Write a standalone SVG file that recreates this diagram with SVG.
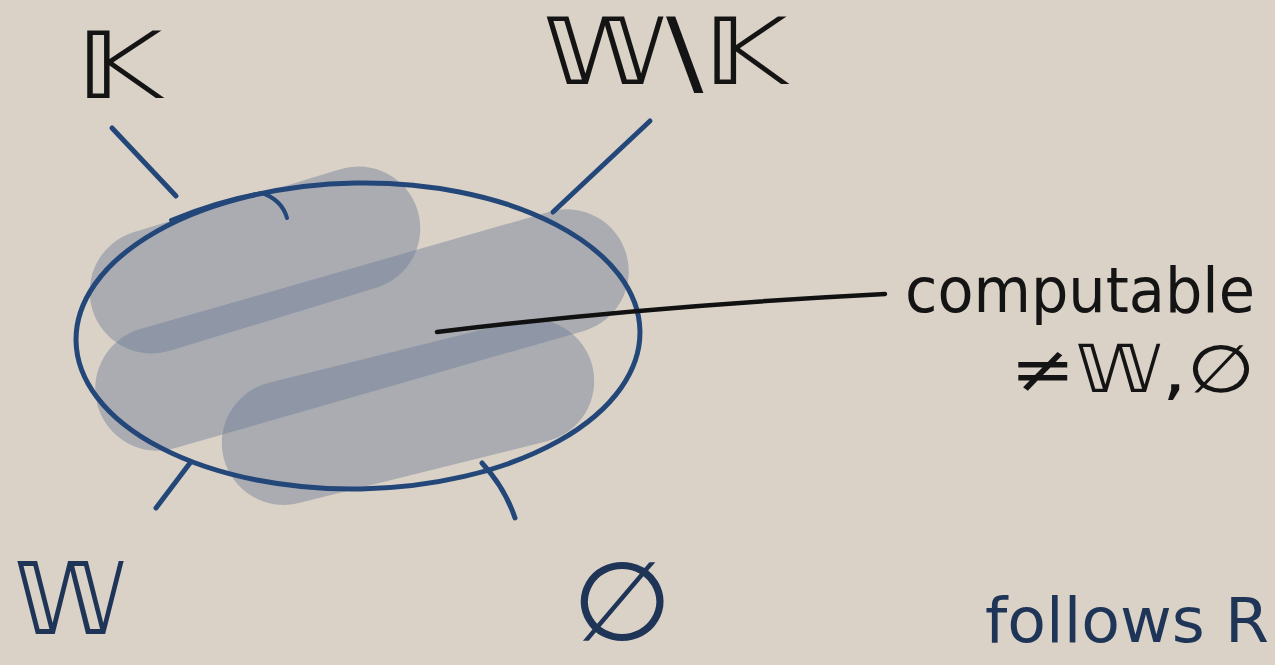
<svg xmlns="http://www.w3.org/2000/svg" width="1275" height="665" viewBox="0 0 1275 665">
<style>
.blob{fill:#6f7e98;fill-opacity:0.45}
.ink{fill:none;stroke:#24477a;stroke-width:5;stroke-linecap:round}
.ptr{fill:none;stroke:#111;stroke-width:4.5;stroke-linecap:round}
.lbl{font-family:"DejaVu Sans",sans-serif;fill:#141414}
.lblb{font-family:"DejaVu Sans",sans-serif;fill:#1f3558}
.hand{font-family:"DejaVu Sans",sans-serif;fill:#141414}
</style>
<rect width="1275" height="665" fill="#dad2c6"/>
<g id="blobs">
  <rect class="blob" x="-170" y="-62" width="340" height="124" rx="62" transform="translate(255,260) rotate(-17)"/>
  <rect class="blob" x="-275" y="-62" width="550" height="124" rx="62" transform="translate(362,330) rotate(-16)"/>
  <rect class="blob" x="-190" y="-62" width="380" height="124" rx="62" transform="translate(408,412) rotate(-14)"/>
</g>
<g id="set">
  <ellipse class="ink" cx="358" cy="336" rx="282" ry="153" transform="rotate(-1 358 336)"/>
</g>
<g id="connectors">
  <path class="ink" d="M112,128 L176,196"/>
  <path class="ink" d="M171,220 Q220,200 262,193 Q282,200 287,218" style="stroke-width:4"/>
  <path class="ink" d="M650,121 L553,212"/>
  <path class="ink" d="M190,463 L156,508"/>
  <path class="ink" d="M482,463 Q505,488 515,518"/>
  <path class="ptr" d="M437,332 Q650,306 885,294"/>
</g>
<g id="label-K"><text class="lbl" x="76" y="98" font-size="92" textLength="86" lengthAdjust="spacingAndGlyphs">𝕂</text></g>
<g id="label-WK"><text class="lbl" x="543" y="84" font-size="92" textLength="244" lengthAdjust="spacingAndGlyphs">𝕎\𝕂</text></g>
<g id="label-W"><text class="lblb" x="14" y="634" font-size="100" textLength="112" lengthAdjust="spacingAndGlyphs">𝕎</text></g>
<g id="label-empty"><text class="lblb" x="572" y="640" font-size="110" textLength="100" lengthAdjust="spacingAndGlyphs">∅</text></g>
<g id="label-computable">
  <text class="hand" x="905" y="312" font-size="62" textLength="350" lengthAdjust="spacingAndGlyphs">computable</text>
  <text class="hand" x="1010" y="392" font-size="66" textLength="245" lengthAdjust="spacingAndGlyphs">≠𝕎,∅</text>
</g>
<g id="label-follows"><text class="lblb" x="985" y="642" font-size="62" textLength="284" lengthAdjust="spacingAndGlyphs">follows R</text></g>
</svg>
